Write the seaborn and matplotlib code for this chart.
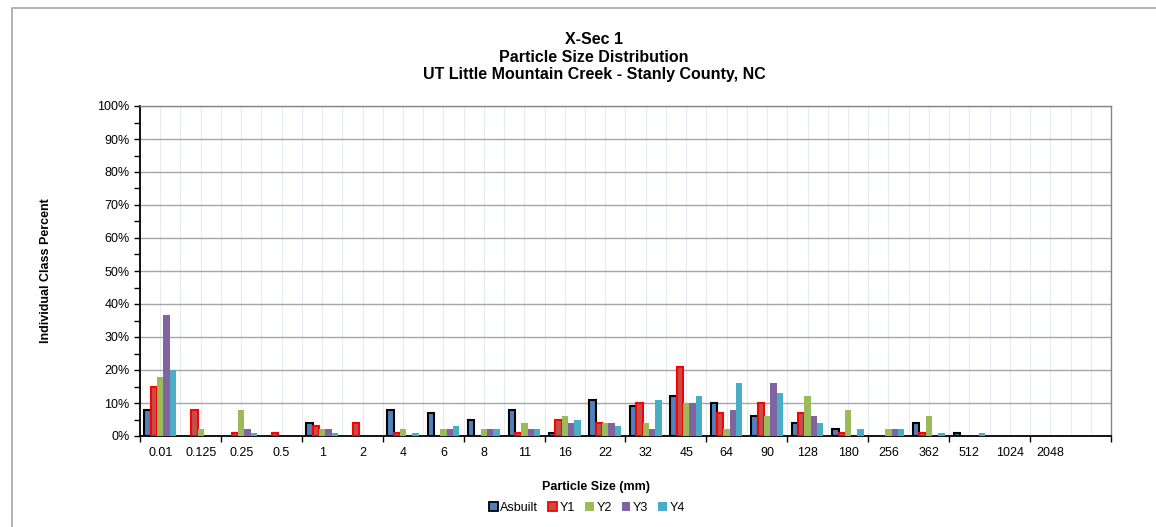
import matplotlib
matplotlib.use("Agg")
import matplotlib.pyplot as plt
import numpy as np
import pandas as pd
import seaborn as sns
from matplotlib.patches import Patch, Rectangle
from matplotlib.ticker import PercentFormatter, MultipleLocator, FixedLocator

# particle size classes (mm)
sizes = ["0.01", "0.125", "0.25", "0.5", "1", "2", "4", "6", "8", "11", "16", "22",
         "32", "45", "64", "90", "128", "180", "256", "362", "512", "1024", "2048"]

# individual class percent per survey
asbuilt = [8, 0, 0, 0, 4, 0, 8, 7, 5, 8, 1, 11, 9, 12, 10, 6, 4, 2, 0, 4, 1, 0, 0]
y1 = [15, 8, 1, 1, 3, 4, 1, 0, 0, 1, 5, 4, 10, 21, 7, 10, 7, 1, 0, 1, 0, 0, 0]
y2 = [18, 2, 8, 0, 2, 0, 2, 2, 2, 4, 6, 4, 4, 10, 2, 6, 12, 8, 2, 6, 0, 0, 0]
y3 = [36.7, 0, 2, 0, 2, 0, 0, 2, 2, 2, 4, 4, 2, 10, 8, 16, 6, 0, 2, 0, 0, 0, 0]
y4 = [20, 0, 1, 0, 1, 0, 1, 3, 2, 2, 5, 3, 11, 12, 16, 13, 4, 2, 2, 1, 1, 0, 0]

series = ["Asbuilt", "Y1", "Y2", "Y3", "Y4"]
colors = {"Asbuilt": "#4F81BD", "Y1": "#C0504D", "Y2": "#9BBB59",
          "Y3": "#8064A2", "Y4": "#4BACC6"}
edges = {"Asbuilt": "black", "Y1": "#FF0000"}

df = pd.DataFrame({
    "size": sizes * 5,
    "pct": asbuilt + y1 + y2 + y3 + y4,
    "series": sum([[s] * len(sizes) for s in series], []),
})

plt.rcParams["font.family"] = ["Liberation Sans", "DejaVu Sans"]

W, H = 1156, 527
fig = plt.figure(figsize=(W / 100, H / 100), dpi=100)
ax = fig.add_axes([140 / W, 1 - 436 / H, (1111 - 140) / W, (436 - 106) / H])

sns.barplot(data=df, x="size", y="pct", hue="series", order=sizes, hue_order=series,
            palette=colors, width=0.78, saturation=1, errorbar=None, legend=False,
            ax=ax, zorder=3)

# borders on the first two series, none on empty bars
for cont, name in zip(ax.containers, series):
    for p in cont.patches:
        if name in edges:
            p.set_edgecolor(edges[name])
            p.set_linewidth(1.5)
        else:
            p.set_linewidth(0)
        if p.get_height() == 0:
            p.set_linewidth(0)

ax.set_xlim(-0.5, 23.5)
ax.set_ylim(0, 100)

# gridlines
for xv in np.arange(-0.5, 23.6, 0.5):
    ax.axvline(xv, color="#e6ebf3", lw=0.8, zorder=0)
for yv in range(10, 101, 10):
    ax.axhline(yv, color="#a6a6a6", lw=1.0, zorder=1)

ax.yaxis.set_major_locator(MultipleLocator(10))
ax.yaxis.set_minor_locator(MultipleLocator(5))
ax.yaxis.set_major_formatter(PercentFormatter(100, decimals=0))
ax.tick_params(axis="y", which="both", length=4, width=1, direction="out", labelsize=9)

ax.set_xticks(range(len(sizes)))
ax.set_xticklabels(sizes)
ax.xaxis.set_minor_locator(FixedLocator(np.arange(-0.5, 23.6, 2)))
ax.tick_params(axis="x", which="major", length=0, labelsize=9, pad=8)
ax.tick_params(axis="x", which="minor", length=4, width=1, direction="out")

ax.set_xlabel("")
ax.set_ylabel("")

for side in ["left", "bottom"]:
    ax.spines[side].set_color("black")
    ax.spines[side].set_linewidth(1.3)
for side in ["top", "right"]:
    ax.spines[side].set_color("#868686")
    ax.spines[side].set_linewidth(1.0)

cx = 594 / W
fig.text(cx, 1 - 40 / H, "X-Sec 1", ha="center", va="center", fontsize=11.5, fontweight="bold")
fig.text(cx, 1 - 57 / H, "Particle Size Distribution", ha="center", va="center",
         fontsize=11.5, fontweight="bold")
fig.text(cx, 1 - 75 / H, "UT Little Mountain Creek - Stanly County, NC", ha="center",
         va="center", fontsize=11.5, fontweight="bold")
fig.text(46 / W, 1 - 271 / H, "Individual Class Percent", rotation=90, ha="center",
         va="center", fontsize=9, fontweight="bold")
fig.text(596 / W, 1 - 487 / H, "Particle Size (mm)", ha="center", va="center",
         fontsize=9, fontweight="bold")

handles = [Patch(facecolor=colors[s], edgecolor=edges.get(s, colors[s]),
                 linewidth=1.3 if s in edges else 0, label=s) for s in series]
fig.legend(handles=handles, loc="center", bbox_to_anchor=(587 / W, 1 - 508 / H),
           ncol=5, frameon=False, fontsize=9, handlelength=0.7, handleheight=0.7,
           handletextpad=0.2, columnspacing=0.8)

# chart area border
fig.patches.append(Rectangle((12 / W, -0.05), 1.1, 1 - 8 / H + 0.05,
                             transform=fig.transFigure, fill=False,
                             edgecolor="#a6a6a6", lw=1.2))

fig.savefig("out.png", dpi=100)
